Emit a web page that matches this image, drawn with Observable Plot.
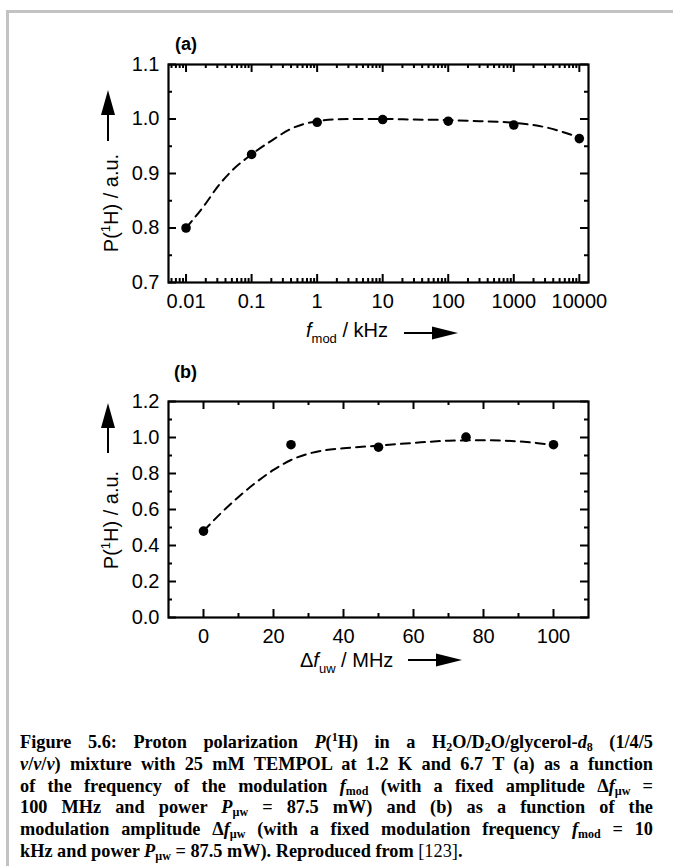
<!DOCTYPE html>
<html>
<head>
<meta charset="utf-8">
<script src="https://cdn.jsdelivr.net/npm/d3@7"></script>
<script src="https://cdn.jsdelivr.net/npm/@observablehq/plot@0.6"></script>
<style>
html,body{margin:0;padding:0;background:#fff;}
body{width:673px;height:866px;position:relative;overflow:hidden;font-family:"Liberation Sans",Arial,sans-serif;}
#frame{position:absolute;left:6px;top:10px;width:720px;height:900px;border-left:3px solid #c3c3c3;border-top:3px solid #c3c3c3;box-sizing:border-box;}
.panel{position:absolute;left:0;}
#caption{position:absolute;left:20px;width:633px;top:732px;font-family:"Liberation Serif","Times New Roman",serif;font-weight:bold;font-size:18.3px;line-height:21.8px;color:#000;}
#caption .ln{text-align:justify;text-align-last:justify;height:21.8px;}
#caption .last{text-align:left;text-align-last:left;}
#caption sub{font-size:12px;line-height:0;vertical-align:baseline;position:relative;top:3px;}
#caption sup{font-size:12px;line-height:0;vertical-align:baseline;position:relative;top:-7px;}
</style>
</head>
<body>
<div id="frame"></div>
<div id="pa" class="panel" style="top:0px"></div>
<div id="pb" class="panel" style="top:350px"></div>
<div id="caption">
<div class="ln">Figure 5.6: Proton polarization <i>P</i>(<sup>1</sup>H) in a H<sub>2</sub>O/D<sub>2</sub>O/glycerol-<i>d</i><sub>8</sub> (1/4/5</div>
<div class="ln"><i>v</i>/<i>v</i>/<i>v</i>) mixture with 25 mM TEMPOL at 1.2 K and 6.7 T (a) as a function</div>
<div class="ln">of the frequency of the modulation <i>f</i><sub>mod</sub> (with a fixed amplitude Δ<i>f</i><sub>µw</sub> =</div>
<div class="ln">100 MHz and power <i>P</i><sub>µw</sub> = 87.5 mW) and (b) as a function of the</div>
<div class="ln">modulation amplitude Δ<i>f</i><sub>µw</sub> (with a fixed modulation frequency <i>f</i><sub>mod</sub> = 10</div>
<div class="ln last">kHz and power <i>P</i><sub>µw</sub> = 87.5 mW). Reproduced from <span style="font-weight:normal">[123]</span>.</div>
</div>
<script>
// ---------- data: panel (a) ----------
const fmod = [0.01, 0.1, 1, 10, 100, 1000, 10000];
const polA = [0.80, 0.935, 0.994, 0.999, 0.996, 0.989, 0.964];
const fitAx = [0.01, 0.02, 0.03, 0.05, 0.1, 0.2, 0.4, 1, 3, 10, 30, 100, 300, 1000, 3000, 10000];
const fitAy = [0.80, 0.845, 0.875, 0.905, 0.935, 0.96, 0.982, 0.996, 1.000, 1.000, 0.999, 0.998, 0.996, 0.993, 0.985, 0.966];
const xTicksA = [0.01, 0.1, 1, 10, 100, 1000, 10000];
const xTickLabelsA = ["0.01", "0.1", "1", "10", "100", "1000", "10000"];
const yTicksA = [0.7, 0.8, 0.9, 1.0, 1.1];
const yTickLabelsA = ["0.7", "0.8", "0.9", "1.0", "1.1"];
const yMinorA = [0.75, 0.85, 0.95, 1.05];

// ---------- data: panel (b) ----------
const dfuw = [0, 25, 50, 75, 100];
const polB = [0.48, 0.96, 0.946, 1.002, 0.96];
const fitBx = [0, 5, 10, 15, 20, 25, 30, 35, 40, 50, 60, 70, 80, 90, 95, 100];
const fitBy = [0.48, 0.58, 0.67, 0.75, 0.82, 0.875, 0.91, 0.93, 0.94, 0.955, 0.97, 0.982, 0.985, 0.978, 0.97, 0.958];
const xTicksB = [0, 20, 40, 60, 80, 100];
const xTickLabelsB = ["0", "20", "40", "60", "80", "100"];
const xMinorB = [10, 30, 50, 70, 90];
const yTicksB = [0, 0.2, 0.4, 0.6, 0.8, 1.0, 1.2];
const yTickLabelsB = ["0.0", "0.2", "0.4", "0.6", "0.8", "1.0", "1.2"];
const yMinorB = [0.1, 0.3, 0.5, 0.7, 0.9, 1.1];

const W = 673;
const FONT = "'Liberation Sans', Arial, sans-serif";
const MAJ = 8, MIN = 4;

function tickMarks(xMaj, xMin, yMaj, yMin, ih, iw) {
  const o = {stroke: "#000", strokeWidth: 2};
  return [
    Plot.ruleX(xMaj, {...o, insetTop: ih - MAJ}),
    Plot.ruleX(xMaj, {...o, insetBottom: ih - MAJ}),
    Plot.ruleX(xMin, {...o, insetTop: ih - MIN}),
    Plot.ruleX(xMin, {...o, insetBottom: ih - MIN}),
    Plot.ruleY(yMaj, {...o, insetRight: iw - MAJ}),
    Plot.ruleY(yMaj, {...o, insetLeft: iw - MAJ}),
    Plot.ruleY(yMin, {...o, insetRight: iw - MIN}),
    Plot.ruleY(yMin, {...o, insetLeft: iw - MIN})
  ];
}

// ---------- panel (a) ----------
const HA = 350, topA = 64, botA = 282, leftA = 168, rightA = 588;
const ihA = botA - topA, iwA = rightA - leftA;
const domA = [0.0054, 13800];
const minorA = d3.scaleLog().domain(domA).ticks().filter(t => !xTicksA.includes(t) && t >= domA[0] && t <= domA[1]);
const ptsA = fmod.map((f, i) => ({f, p: polA[i]}));
const fitA = fitAx.map((f, i) => ({f, p: fitAy[i]}));

const plotA = Plot.plot({
  width: W, height: HA,
  marginLeft: leftA, marginRight: W - rightA, marginTop: topA, marginBottom: HA - botA,
  x: {type: "log", domain: domA, axis: null},
  y: {domain: [0.7, 1.1], axis: null},
  style: {fontFamily: FONT, fontSize: "20px", color: "#000", background: "transparent", overflow: "visible"},
  marks: [
    ...tickMarks(xTicksA, minorA, yTicksA, yMinorA, ihA, iwA),
    Plot.line(fitA, {x: "f", y: "p", curve: "monotone-x", stroke: "#000", strokeWidth: 2, strokeDasharray: "9,6"}),
    Plot.dot(ptsA, {x: "f", y: "p", r: 4.8, fill: "#000", stroke: "none"}),
    Plot.frame({stroke: "#000", strokeWidth: 2.2}),
    Plot.text(xTicksA, {x: d => d, text: (d, i) => xTickLabelsA[i], frameAnchor: "bottom", lineAnchor: "top", dy: 11, fill: "#000"}),
    Plot.text(yTicksA, {y: d => d, text: (d, i) => yTickLabelsA[i], frameAnchor: "left", textAnchor: "end", dx: -9, fill: "#000"})
  ]
});
document.getElementById("pa").appendChild(plotA);

// ---------- panel (b) ----------
const HB = 350, offB = 350, topB = 401 - offB, botB = 617 - offB, leftB = 168, rightB = 588;
const ihB = botB - topB, iwB = rightB - leftB;
const ptsB = dfuw.map((d, i) => ({d, p: polB[i]}));
const fitB = fitBx.map((d, i) => ({d, p: fitBy[i]}));

const plotB = Plot.plot({
  width: W, height: HB,
  marginLeft: leftB, marginRight: W - rightB, marginTop: topB, marginBottom: HB - botB,
  x: {domain: [-10, 110], axis: null},
  y: {domain: [0, 1.2], axis: null},
  style: {fontFamily: FONT, fontSize: "20px", color: "#000", background: "transparent", overflow: "visible"},
  marks: [
    ...tickMarks(xTicksB, xMinorB, yTicksB, yMinorB, ihB, iwB),
    Plot.line(fitB, {x: "d", y: "p", curve: "monotone-x", stroke: "#000", strokeWidth: 2, strokeDasharray: "9,6"}),
    Plot.dot(ptsB, {x: "d", y: "p", r: 4.8, fill: "#000", stroke: "none"}),
    Plot.frame({stroke: "#000", strokeWidth: 2.2}),
    Plot.text(xTicksB, {x: d => d, text: (d, i) => xTickLabelsB[i], frameAnchor: "bottom", lineAnchor: "top", dy: 11, fill: "#000"}),
    Plot.text(yTicksB, {y: d => d, text: (d, i) => yTickLabelsB[i], frameAnchor: "left", textAnchor: "end", dx: -9, fill: "#000"})
  ]
});
document.getElementById("pb").appendChild(plotB);

// ---------- annotations ----------
function panelLabel(svg, txt, x, y) {
  svg.append("text").attr("x", x).attr("y", y).attr("font-size", 18).attr("font-weight", "bold")
    .attr("text-anchor", "start").attr("fill", "#000").text(txt);
}
function rightArrow(svg, x0, x1, y) {
  svg.append("line").attr("x1", x0).attr("x2", x1 - 22).attr("y1", y).attr("y2", y).attr("stroke", "#000").attr("stroke-width", 2);
  svg.append("path").attr("d", `M${x1},${y}L${x1 - 26},${y - 6.5}L${x1 - 26},${y + 6.5}Z`).attr("fill", "#000");
}
function upArrow(svg, x, yTip, yTail) {
  svg.append("line").attr("x1", x).attr("x2", x).attr("y1", yTail).attr("y2", yTip + 22).attr("stroke", "#000").attr("stroke-width", 2);
  svg.append("path").attr("d", `M${x},${yTip}L${x - 7},${yTip + 25}L${x + 7},${yTip + 25}Z`).attr("fill", "#000");
}
function yTitle(svg, cx, cy) {
  const t = svg.append("text").attr("transform", `translate(${cx},${cy}) rotate(-90)`)
    .attr("text-anchor", "middle").attr("font-size", 20).attr("fill", "#000");
  t.append("tspan").text("P(");
  t.append("tspan").attr("font-size", 13).attr("dy", -8).text("1");
  t.append("tspan").attr("dy", 8).text("H) / a.u.");
}

const sa = d3.select(plotA);
panelLabel(sa, "(a)", 175, 50);
yTitle(sa, 118, 203);
upArrow(sa, 108, 90, 141);
{
  const t = sa.append("text").attr("x", 306).attr("y", 337).attr("font-size", 20)
    .attr("text-anchor", "start").attr("fill", "#000");
  t.append("tspan").attr("font-style", "italic").text("f");
  t.append("tspan").attr("font-size", 13).attr("dy", 6).text("mod");
  t.append("tspan").attr("dy", -6).text(" / kHz");
  rightArrow(sa, 404, 458, 333);
}

const sb = d3.select(plotB);
panelLabel(sb, "(b)", 174, 378 - offB);
yTitle(sb, 118, 520 - offB);
upArrow(sb, 108, 403 - offB, 453 - offB);
{
  const t = sb.append("text").attr("x", 300).attr("y", 667 - offB).attr("font-size", 20)
    .attr("text-anchor", "start").attr("fill", "#000");
  t.append("tspan").text("Δ");
  t.append("tspan").attr("font-style", "italic").text("f");
  t.append("tspan").attr("font-size", 13).attr("dy", 6).text("uw");
  t.append("tspan").attr("dy", -6).text(" / MHz");
  rightArrow(sb, 408, 462, 660 - offB);
}
</script>
</body>
</html>
